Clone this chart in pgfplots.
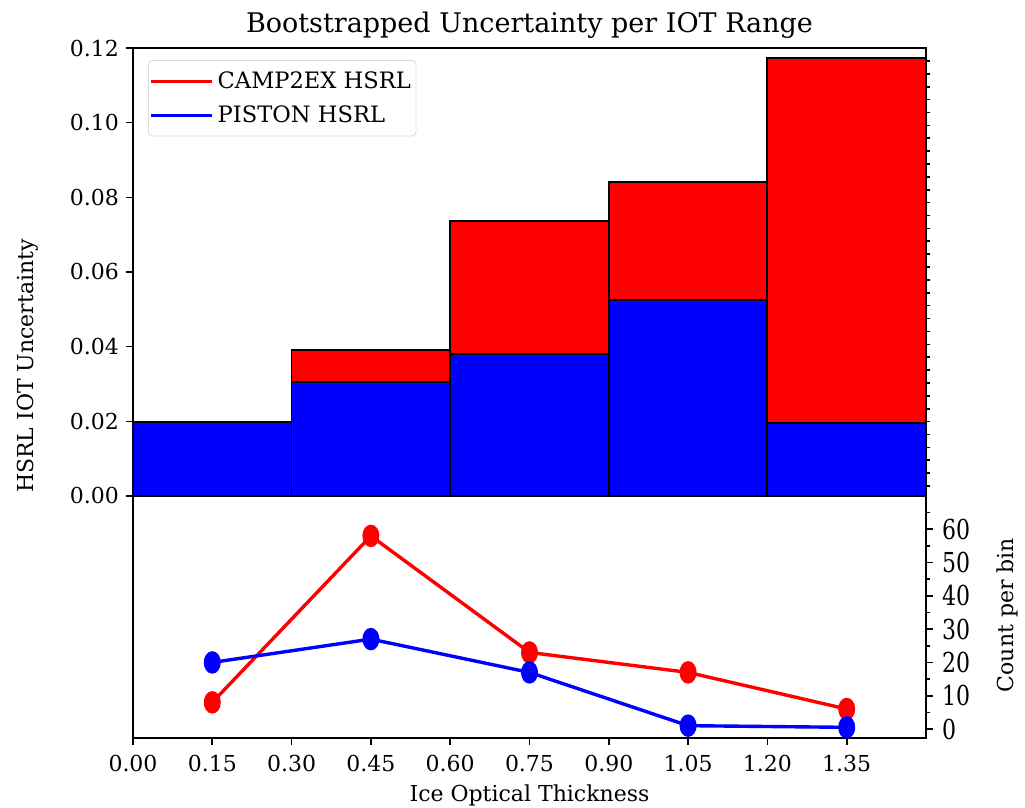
\documentclass[border=0pt]{standalone}
\usepackage{fontspec}
\setmainfont{DejaVu Serif}
\usepackage{pgfplots}
\pgfplotsset{compat=1.18}

% Bin edges 0, 0.3, ..., 1.5; uncertainty per bin (last row repeats the final bin)
\begin{document}
\begin{tikzpicture}
\useasboundingbox (0pt,0pt) rectangle (512.5pt,404pt);
\pgfplotsset{
  every axis/.append style={
    font=\fontsize{11}{13}\selectfont,
    scale only axis, width=396.5pt,
    /pgf/number format/assume math mode=true,
    axis line style={line width=0.8pt},
    every tick/.style={line width=0.8pt, black},
    tick align=outside,
    major tick length=3.5pt, minor tick length=2pt,
    xmin=0, xmax=1.5,
  },
}

% ---- upper panel: bootstrapped uncertainty per IOT bin ----
\begin{axis}[
  at={(66.5pt,156pt)}, anchor=south west, height=224pt,
  ymin=0, ymax=0.12,
  xtick=\empty,
  ytick={0,0.02,0.04,0.06,0.08,0.1,0.12}, ytick pos=left,
  scaled y ticks=false,
  yticklabel style={/pgf/number format/fixed, /pgf/number format/fixed zerofill, /pgf/number format/precision=2},
  title={Bootstrapped Uncertainty per IOT Range},
  title style={at={(0.5,1)}, anchor=base, yshift=1.5pt, font=\fontsize{13.5}{16}\selectfont},
  ylabel={HSRL IOT Uncertainty},
  ylabel style={at={(axis description cs:-0.133,0.29)}, anchor=center},
  legend style={at={(0.019,0.973)}, anchor=north west, draw=black!15, rounded corners=2pt,
    fill=white, fill opacity=0.8, text opacity=1, inner xsep=0.5pt, inner ysep=3.5pt,
    row sep=3pt, font=\fontsize{11.3}{13}\selectfont},
  legend cell align=left,
  legend image code/.code={\draw[#1] (0pt,0pt) -- (24pt,0pt); \path (0pt,0pt) -- (30.5pt,0pt);},
]
\addplot[ybar interval, fill=red, draw=black, line width=0.9pt, forget plot]
  coordinates {(0,0.0190) (0.3,0.0391) (0.6,0.0737) (0.9,0.0841) (1.2,0.1173) (1.5,0.1173)};
\addplot[ybar interval, fill=blue, draw=black, line width=0.9pt, forget plot]
  coordinates {(0,0.0198) (0.3,0.0305) (0.6,0.0380) (0.9,0.0525) (1.2,0.0196) (1.5,0.0196)};
\addlegendimage{red, line width=1.6pt}
\addlegendentry{CAMP2EX HSRL\hspace{6pt}}
\addlegendimage{blue, line width=1.6pt}
\addlegendentry{PISTON HSRL\hspace{6pt}}
\end{axis}

% right-hand fine ticks of the upper panel
\begin{axis}[
  at={(66.5pt,156pt)}, anchor=south west, height=224pt,
  ymin=0, ymax=0.12,
  hide x axis, axis y line*=right,
  y axis line style={draw=none},
  ytick={0.00268,0.00613,...,0.1170}, yticklabels={},
  scaled y ticks=false, major tick length=1.8pt,
]
\end{axis}

% ---- lower panel: count per bin ----
\begin{axis}[
  at={(66.5pt,35pt)}, anchor=south west, height=121pt,
  ymin=-2.7, ymax=70,
  xtick={0,0.15,0.3,0.45,0.6,0.75,0.9,1.05,1.2,1.35}, xtick pos=left,
  xticklabel style={yshift=-1.5pt, /pgf/number format/fixed, /pgf/number format/fixed zerofill, /pgf/number format/precision=2},
  ytick={0,10,20,30,40,50,60}, minor ytick={5,15,25,35,45,55,65},
  ytick pos=right, yticklabel pos=right,
  yticklabel style={yscale=1.25, xshift=1pt},
  xlabel={Ice Optical Thickness},
  xlabel style={at={(axis description cs:0.5,-0.263)}, anchor=base},
  ylabel={Count per bin},
  ylabel style={at={(axis description cs:1.103,0.508)}, anchor=center},
]
\addplot[red, line width=1.7pt, mark=*, mark size=3.4pt, mark options={yscale=1.4}]
  coordinates {(0.15,8) (0.45,58) (0.75,23) (1.05,17) (1.35,6)};
\addplot[blue, line width=1.7pt, mark=*, mark size=3.4pt, mark options={yscale=1.4}]
  coordinates {(0.15,20) (0.45,27) (0.75,17) (1.05,1) (1.35,0.5)};
\end{axis}
\end{tikzpicture}
\end{document}
